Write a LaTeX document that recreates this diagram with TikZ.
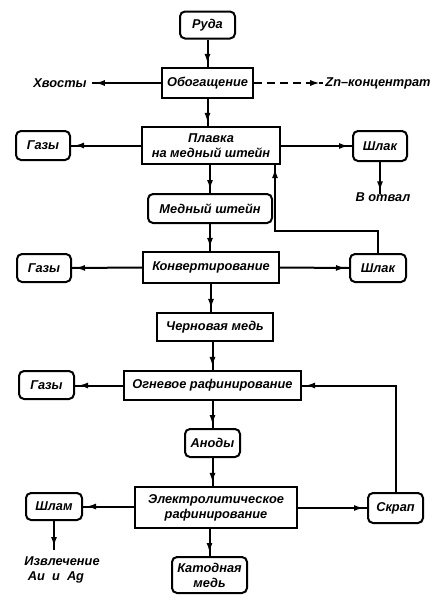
\documentclass[tikz,border=0pt]{standalone}
\usepackage{fontspec}
\setmainfont{Liberation Sans}
\usetikzlibrary{arrows.meta,decorations.markings}
\newcommand\lab{\bfseries\itshape\fontsize{12.8}{15}\selectfont}
\tikzset{
  term/.style={draw, line width=2pt, rounded corners=5pt, inner sep=0pt, align=center, font=\lab},
  proc/.style={draw, line width=2.2pt, inner sep=0pt, align=center, font=\lab},
  txt/.style={inner sep=0pt, align=center, font=\lab},
  flow/.style={line width=2pt, postaction={decorate},
    decoration={markings, mark=at position -3pt with {\arrow{Latex[length=10pt,width=6pt]}}}},
  dflow/.style={flow, dash pattern=on 8pt off 5pt}
}
\begin{document}
\begin{tikzpicture}[x=1pt,y=-1pt]
\useasboundingbox (0,0) rectangle (446,608);
\node[term, minimum width=55, minimum height=27] (ruda) at (207.5,25) {Руда};
\node[proc, minimum width=91, minimum height=30] (obog) at (207.5,83) {Обогащение};
\node[txt] (hvost) at (60,83) {Хвосты};
\node[txt] (zn) at (378,83) {Zn–концентрат};
\node[proc, minimum width=138, minimum height=37] (plav) at (211,145.5) {Плавка\\на медный штейн};
\node[term, minimum width=54, minimum height=29] (gaz1) at (43,145.5) {Газы};
\node[term, minimum width=54, minimum height=30] (shlak1) at (380,146) {Шлак};
\node[txt] (votval) at (383,197) {В отвал};
\node[term, minimum width=124, minimum height=29] (medsht) at (210,208.5) {Медный штейн};
\node[proc, minimum width=136, minimum height=31] (konv) at (211,267.5) {Конвертирование};
\node[term, minimum width=54, minimum height=28] (gaz2) at (44,268) {Газы};
\node[term, minimum width=56, minimum height=28] (shlak2) at (378,268) {Шлак};
\node[proc, minimum width=116, minimum height=28] (chern) at (215,327) {Черновая медь};
\node[proc, minimum width=177, minimum height=29] (ogn) at (212.5,385.5) {Огневое рафинирование};
\node[term, minimum width=55, minimum height=28] (gaz3) at (46.5,385) {Газы};
\node[term, minimum width=55, minimum height=28] (anod) at (212.5,443) {Аноды};
\node[proc, minimum width=162, minimum height=41] (elek) at (216,507.5) {Электролитическое\\рафинирование};
\node[term, minimum width=56, minimum height=27] (shlam) at (54,506.5) {Шлам};
\node[term, minimum width=55, minimum height=30] (skrap) at (395.5,508) {Скрап};
\node[txt, align=left] (izvl) at (62,570) {Извлечение\\\ Au\ \ и\ \ Ag};
\node[term, minimum width=75, minimum height=36] (katod) at (209.5,575) {Катодная\\медь};
\coordinate (fb1) at (275,231);
\coordinate (izvltop) at (54,550);
% vertical flow
\draw[flow] (ruda.south) -- (ruda.south |- obog.north);
\draw[flow] (obog.south) -- (obog.south |- plav.north);
\draw[flow] (medsht.north |- plav.south) -- (medsht.north);
\draw[flow] (medsht.south) -- (medsht.south |- konv.north);
\draw[flow] (konv.south) -- (konv.south |- chern.north);
\draw[flow] (chern.south -| ogn.north) -- (ogn.north);
\draw[flow] (ogn.south) -- (ogn.south |- anod.north);
\draw[flow] (anod.south) -- (anod.south |- elek.north);
\draw[flow] (elek.south -| katod.north) -- (katod.north);
% side flows
\draw[flow] (obog.west) -- ([xshift=5pt]hvost.east);
\draw[dflow] (obog.east) -- ([xshift=-2pt]zn.west);
\draw[flow] (plav.west |- gaz1) -- (gaz1.east);
\draw[flow] (plav.east |- shlak1) -- (shlak1.west);
\draw[flow] (shlak1.south) -- ([yshift=-2pt]shlak1.south |- votval.north);
\draw[flow] (konv.west) -- (gaz2.east);
\draw[flow] (konv.east) -- (shlak2.west);
\draw[flow] (ogn.west) -- (ogn.west -| gaz3.east);
\draw[flow] (elek.west |- shlam) -- (shlam.east);
\draw[flow] (elek.east |- skrap) -- (skrap.west);
\draw[flow] (shlam.south) -- (shlam.south |- izvltop);
% feedback
\draw[flow] (shlak2.north) |- (fb1) -- (fb1 |- plav.south);
\draw[flow] (skrap.north) |- (ogn.east);
\end{tikzpicture}
\end{document}
